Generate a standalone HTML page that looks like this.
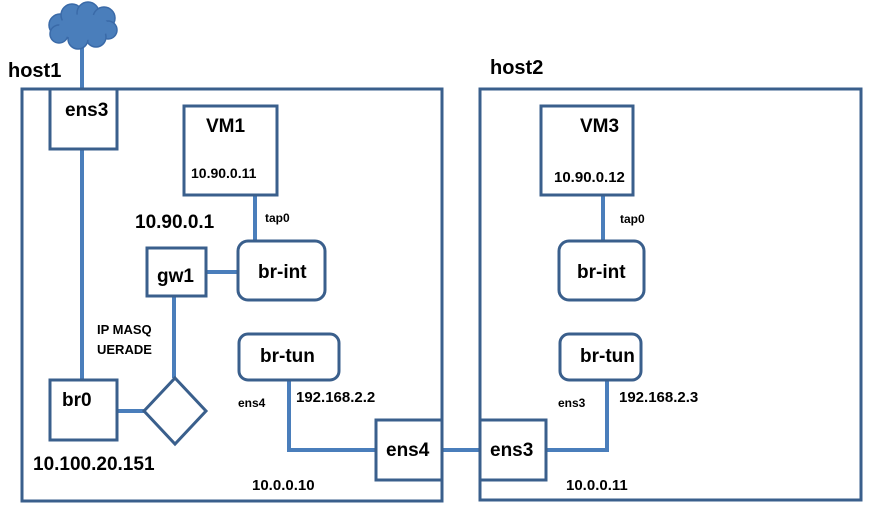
<!DOCTYPE html>
<html><head><style>
body{margin:0;background:#fff;}
svg text{font-family:"Liberation Sans",sans-serif;font-weight:bold;fill:#000;}
</style></head><body>
<svg width="880" height="518" xmlns="http://www.w3.org/2000/svg">
<g fill="none" stroke="#4a7ebb" stroke-width="4">
<line x1="82" y1="45" x2="82" y2="89"/>
<line x1="82" y1="149" x2="82" y2="380"/>
<line x1="174" y1="296" x2="174" y2="378"/>
<line x1="117" y1="411" x2="144" y2="411"/>
<line x1="206" y1="272" x2="238" y2="272"/>
<line x1="255" y1="195" x2="255" y2="241"/>
<polyline points="289,380 289,450 376,450"/>
<line x1="442" y1="450" x2="480" y2="450"/>
<polyline points="607,380 607,450 546,450"/>
<line x1="603" y1="195" x2="603" y2="241"/>
</g>
<g fill="none" stroke="#3a5f8c" stroke-width="3">
<rect x="22" y="89" width="420" height="412"/>
<rect x="480" y="89" width="381" height="411"/>
<rect x="50" y="89" width="67" height="60" fill="#fff"/>
<rect x="184" y="106" width="93" height="89"/>
<rect x="147" y="248" width="59" height="48"/>
<rect x="238" y="241" width="87" height="59" rx="10"/>
<rect x="239" y="334" width="100" height="46" rx="9"/>
<rect x="50" y="380" width="67" height="60"/>
<polygon points="175,378 206,411 175,444 144,411"/>
<rect x="376" y="420" width="66" height="60"/>
<rect x="480" y="420" width="66" height="60"/>
<rect x="541" y="106" width="92" height="89"/>
<rect x="559" y="241" width="85" height="59" rx="10"/>
<rect x="560" y="334" width="81" height="46" rx="9"/>
</g>
<g fill="#4a7ebb" stroke="#3a6aa8" stroke-width="1.5">
<circle cx="60" cy="25" r="11"/><circle cx="72" cy="15" r="11"/><circle cx="88" cy="13" r="11"/>
<circle cx="104" cy="18" r="11"/><circle cx="108" cy="30" r="9"/><circle cx="96" cy="37" r="10"/>
<circle cx="78" cy="39" r="10"/><circle cx="59" cy="34" r="9"/><ellipse cx="84" cy="27" rx="25" ry="13" stroke="none"/>
</g>
<text x="8" y="77" font-size="20">host1</text>
<text x="490" y="74" font-size="20">host2</text>
<text x="65" y="116" font-size="19">ens3</text>
<text x="206" y="132" font-size="19">VM1</text>
<text x="191" y="178" font-size="14">10.90.0.11</text>
<text x="135" y="228" font-size="19">10.90.0.1</text>
<text x="265" y="222" font-size="12">tap0</text>
<text x="157" y="282" font-size="19">gw1</text>
<text x="258" y="278" font-size="19">br-int</text>
<text x="97" y="334" font-size="13">IP MASQ</text>
<text x="97" y="354" font-size="13">UERADE</text>
<text x="260" y="362" font-size="19">br-tun</text>
<text x="62" y="406" font-size="19">br0</text>
<text x="238" y="407" font-size="12">ens4</text>
<text x="296" y="402" font-size="15">192.168.2.2</text>
<text x="386" y="456" font-size="19">ens4</text>
<text x="33" y="470" font-size="19">10.100.20.151</text>
<text x="252" y="490" font-size="15">10.0.0.10</text>
<text x="580" y="132" font-size="19">VM3</text>
<text x="554" y="182" font-size="15">10.90.0.12</text>
<text x="620" y="223" font-size="12">tap0</text>
<text x="577" y="278" font-size="19">br-int</text>
<text x="580" y="362" font-size="19">br-tun</text>
<text x="558" y="407" font-size="12">ens3</text>
<text x="619" y="402" font-size="15">192.168.2.3</text>
<text x="490" y="456" font-size="19">ens3</text>
<text x="566" y="490" font-size="15">10.0.0.11</text>
</svg>
</body></html>
